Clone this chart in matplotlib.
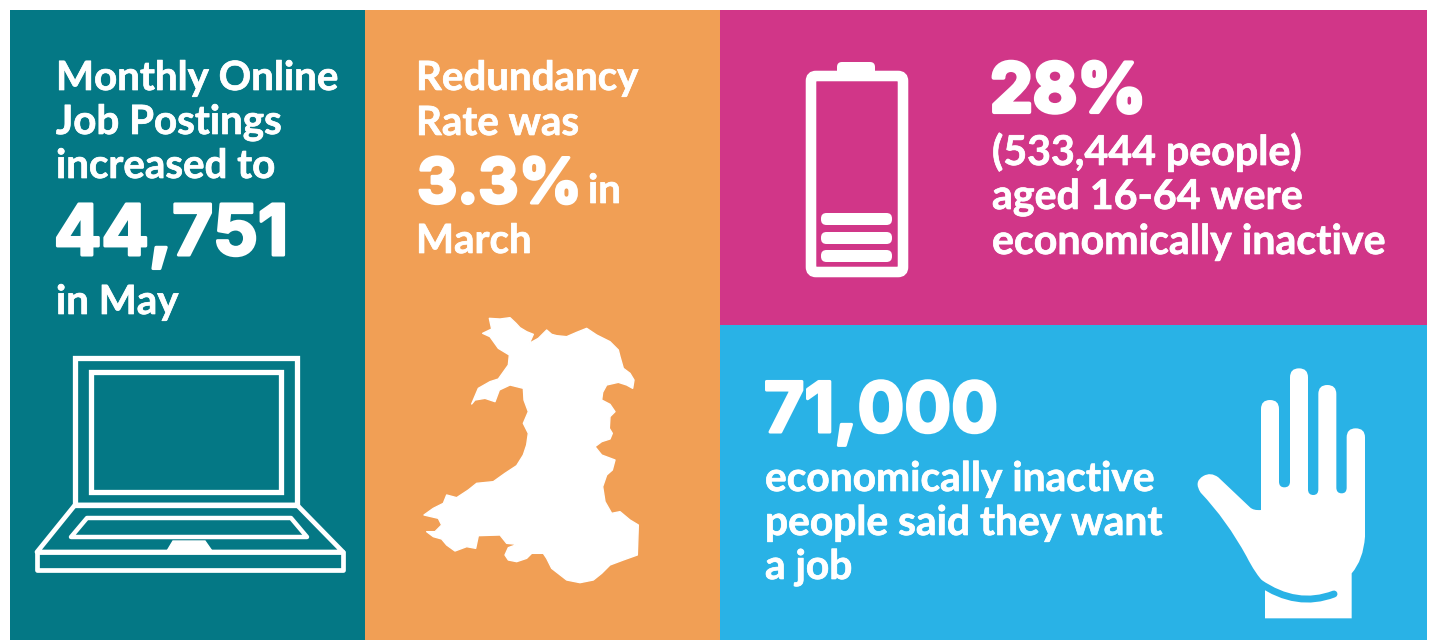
import matplotlib
matplotlib.use("Agg")
import matplotlib.pyplot as plt
import matplotlib.patheffects as pe
from matplotlib.patches import Rectangle, Polygon, FancyBboxPatch, PathPatch
from matplotlib.path import Path

TEAL, ORANGE, PINK, BLUE = "#047885", "#F19F55", "#D13688", "#29B2E6"
WHITE = "#FFFFFF"
plt.rcParams["font.family"] = ["Lato", "DejaVu Sans"]

panel_1_lines = ["Monthly Online", "Job Postings", "increased to"]
panel_1_value = "44,751"
panel_1_tail = "in May"
panel_2_lines = ["Redundancy", "Rate was"]
panel_2_value = "3.3%"
panel_2_after = "in"
panel_2_tail = "March"
panel_3_value = "28%"
panel_3_lines = ["(533,444 people)", "aged 16-64 were", "economically inactive"]
panel_4_value = "71,000"
panel_4_lines = ["economically inactive", "people said they want", "a job"]

wales_zoom = [(238,40),(270,42),(300,38),(318,55),(330,68),(350,80),(370,88),(358,115),(385,100),(410,75),
    (425,88),(440,92),(470,95),(500,82),(530,70),(560,90),(600,110),(625,135),(630,155),(640,190),(660,205),
    (672,225),(668,250),(650,240),(625,232),(590,240),(578,262),(575,285),(600,298),(615,320),(600,335),(598,370),
    (607,385),(600,402),(575,410),(555,425),(575,450),(615,465),(607,495),(590,510),(578,545),(585,590),(605,625),
    (630,620),(660,645),(685,660),(682,750),(640,765),(600,780),(575,805),(550,825),(510,833),(470,825),(425,790),
    (410,760),(400,745),(365,745),(350,760),(320,770),(295,765),(285,750),(295,728),(322,718),(290,715),(270,690),
    (205,692),(197,730),(170,725),(135,738),(110,720),(95,702),(70,695),(50,680),(75,680),(95,660),(85,640),(42,630),
    (70,610),(100,595),(110,570),(140,578),(175,555),(200,535),(250,530),(285,505),(320,482),(340,450),(350,420),
    (355,385),(340,355),(355,320),(342,285),(340,250),(300,240),(268,255),(255,290),(225,280),(195,285),(185,297),
    (205,250),(240,230),(265,222),(295,180),(298,150),(265,130),(240,95),(218,85),(245,72)]

fig = plt.figure(figsize=(14.29, 6.40), dpi=100, facecolor=WHITE)
ax = fig.add_axes([0, 0, 1, 1])
ax.set_xlim(0, 1429)
ax.set_ylim(640, 0)
ax.axis("off")

for x, y, w, h, c in [(10, 10, 355, 630, TEAL), (365, 10, 355, 630, ORANGE),
                      (720, 10, 707, 315, PINK), (720, 325, 707, 315, BLUE)]:
    ax.add_patch(Rectangle((x, y), w, h, fc=c, ec="none"))


def txt(x, y, s, size, stroke=0.5, family="Lato"):
    t = ax.text(x, y, s, color=WHITE, fontsize=size, fontweight="bold", ha="left", va="baseline",
                family=[family, "DejaVu Sans"])
    t.set_path_effects([pe.withStroke(linewidth=stroke, foreground=WHITE)])


BODY = 29.0
for y, s in zip([90, 134, 178], panel_1_lines):
    txt(56, y, s, BODY)
txt(54, 255, panel_1_value, 50.5, 2.2, "Inter")
txt(56, 314, panel_1_tail, BODY)
for y, s in zip([90, 135], panel_2_lines):
    txt(416, y, s, BODY)
txt(417, 203, panel_2_value, 45, 2.2, "Inter")
txt(588, 203, panel_2_after, BODY)
txt(416, 253, panel_2_tail, BODY)
txt(990, 112, panel_3_value, 49, 3.0, "Inter")
for y, s in zip([165, 209, 254], panel_3_lines):
    txt(992, y, s, 29.6)
txt(764, 432, panel_4_value, 50, 2.2, "Inter")
for y, s in zip([491, 535, 579], panel_4_lines):
    txt(765, y, s, 29.3)


# Laptop (outlines)
def outline(pts, lw, join="miter"):
    ax.add_patch(Polygon(pts, closed=True, fc="none", ec=WHITE, lw=lw, joinstyle=join))


outline([(75, 358), (297, 358), (297, 505), (75, 505)], 3.8)
outline([(91, 372), (281, 372), (281, 492), (91, 492)], 3.8)
outline([(75, 505), (37, 552), (343, 552), (297, 505)], 3.4, "round")
outline([(37, 552), (343, 552), (343, 570), (37, 570)], 3.4, "round")
outline([(87, 518), (291, 518), (307, 537), (71, 537)], 3.2, "round")
ax.add_patch(Polygon([(167, 551), (173, 541), (205, 541), (212, 551)], fc=WHITE, ec=WHITE, lw=1))

# Wales
ax.add_patch(Polygon([(410 + x / 3, 305 + y / 3) for x, y in wales_zoom], fc=WHITE, ec=WHITE, lw=1, joinstyle="round"))

# Battery
ax.add_patch(FancyBboxPatch((811, 76), 92, 196, boxstyle="round,pad=0,rounding_size=5", fc="none", ec=WHITE, lw=7.6))
ax.add_patch(FancyBboxPatch((837, 62), 38, 14, boxstyle="round,pad=0,rounding_size=5", fc=WHITE, ec="none"))
for y in [213, 232, 250]:
    ax.add_patch(FancyBboxPatch((821, y), 71, 12, boxstyle="round,pad=0,rounding_size=5.5", fc=WHITE, ec="none"))

# Hand
Z = lambda x, y: (1180 + x / 3, 360 + y / 3)
M, L, C = Path.MOVETO, Path.LINETO, Path.CURVE3
hand = [
    (M, (62, 398)), (C, (40, 365)), (C, (70, 348)), (C, (92, 335)), (C, (115, 352)), (L, (210, 442)),
    (C, (220, 452)), (C, (243, 450)), (L, (243, 147)), (C, (243, 120)), (C, (270, 120)), (C, (297, 120)), (C, (297, 147)),
    (L, (297, 365)), (C, (297, 382)), (C, (313, 382)), (C, (330, 382)), (C, (330, 365)), (L, (330, 52)),
    (C, (330, 25)), (C, (357, 25)), (C, (384, 25)), (C, (384, 52)), (L, (384, 388)), (C, (384, 405)), (C, (400, 405)),
    (C, (415, 405)), (C, (415, 388)), (L, (415, 102)), (C, (415, 75)), (C, (442, 75)), (C, (469, 75)), (C, (469, 102)),
    (L, (469, 383)), (C, (469, 400)), (C, (485, 400)), (C, (500, 400)), (C, (500, 383)), (L, (500, 232)),
    (C, (500, 205)), (C, (527, 205)), (C, (555, 205)), (C, (555, 232)), (L, (555, 530)), (C, (550, 600)), (C, (515, 640)),
    (L, (515, 775)), (L, (255, 775)), (L, (255, 672)), (C, (225, 640)), (C, (200, 590)), (C, (140, 480)), (C, (62, 398)),
]
ax.add_patch(PathPatch(Path([Z(*p) for _, p in hand], [c for c, _ in hand]), fc=WHITE, ec="none"))
cuff = Path([Z(238, 668), Z(350, 745), Z(462, 702)], [M, C, C])
ax.add_patch(PathPatch(cuff, fc="none", ec=BLUE, lw=5, capstyle="round"))

fig.savefig("out.png", dpi=100, facecolor=WHITE)
